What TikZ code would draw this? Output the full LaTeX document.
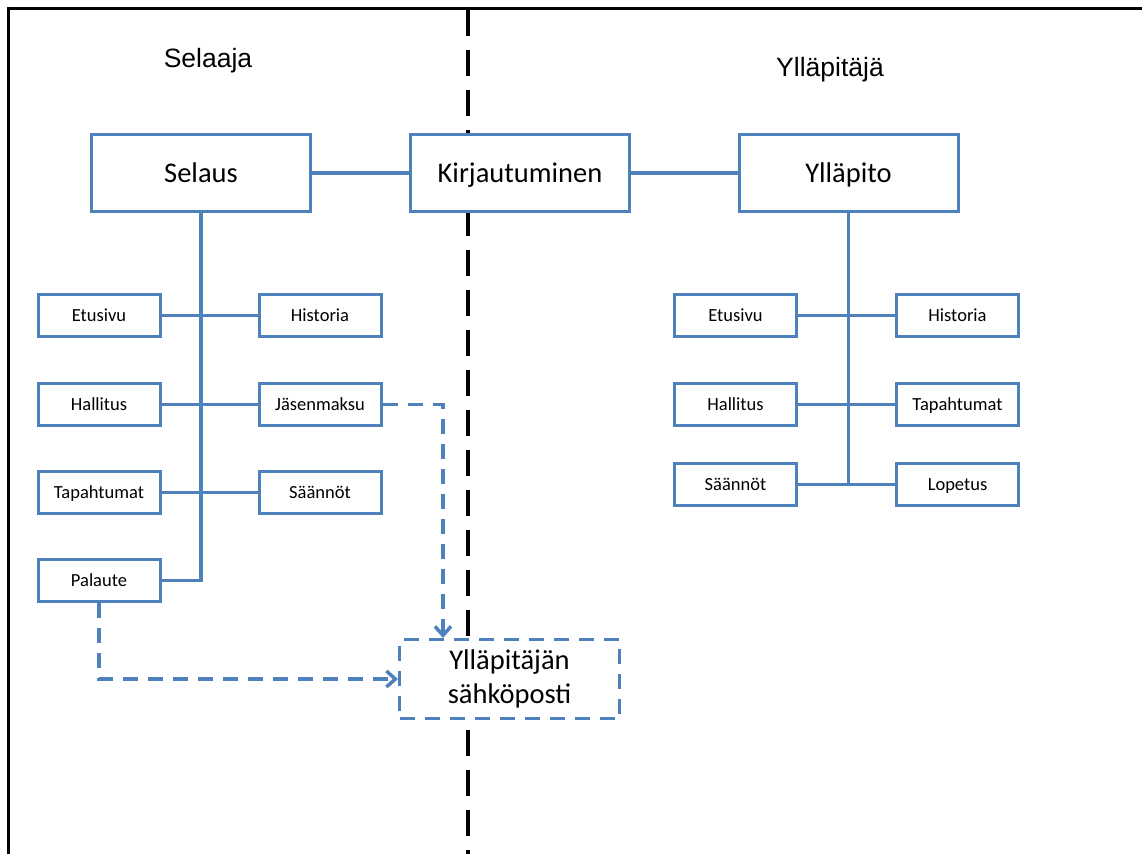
\documentclass[tikz,border=0pt]{standalone}
\usepackage{fontspec}
\setmainfont{Carlito}
\newfontfamily\arialfont{Liberation Sans}
\usetikzlibrary{arrows.meta,positioning}
\definecolor{officeblue}{RGB}{79,129,189}
\tikzset{
  bigbox/.style={draw=officeblue,line width=3pt,fill=white,
    minimum width=219pt,minimum height=77pt,
    text height=21pt,text depth=3pt,
    font=\fontsize{28.5}{34}\selectfont},
  smallbox/.style={draw=officeblue,line width=3pt,fill=white,
    minimum width=122pt,minimum height=42pt,
    text height=14pt,text depth=2pt,
    font=\fontsize{18.5}{22}\selectfont},
  mailbox/.style={draw=officeblue,line width=3pt,dash pattern=on 15pt off 10pt,
    fill=white,minimum width=220pt,minimum height=79pt,align=center,
    font=\fontsize{28.5}{34}\selectfont},
  link/.style={officeblue,line width=3.5pt},
  maillink/.style={officeblue,line width=3.5pt,dash pattern=on 15pt off 10pt,
    -{Straight Barb[length=9pt,width=16pt]}},
  divider/.style={line width=4.5pt,dash pattern=on 26pt off 14pt},
  sidetitle/.style={font=\arialfont\fontsize{26.5}{30}\selectfont}
}

\begin{document}
\begin{tikzpicture}[x=1pt,y=-1pt]
  \useasboundingbox (0,0) rectangle (1142,854);
  \fill[white] (0,0) rectangle (1142,854);
  % frame and divider
  \draw[line width=3pt] (8,854) -- (8,8) -- (1142,8);
  \draw[divider] (468,10) -- (468,854);

  \node[sidetitle] (selaaja) at (208,61) {Selaaja};
  \node[sidetitle] (yllapitaja) at (830,70) {Ylläpitäjä};

  \node[bigbox] (selaus) at (201,173) {Selaus};
  \node[bigbox] (kirj) at (520,173) {Kirjautuminen};
  \node[bigbox] (yllapito) at (848.5,173) {Ylläpito};

  % selaaja side
  \node[smallbox] (etusivu) at (99,315.5) {Etusivu};
  \node[smallbox] (historia) at (320,315.5) {Historia};
  \node[smallbox] (hallitus) at (99,404.5) {Hallitus};
  \node[smallbox] (jasen) at (320,404.5) {Jäsenmaksu};
  \node[smallbox] (tapaht) at (99,492.5) {Tapahtumat};
  \node[smallbox] (saannot) at (320,492.5) {Säännöt};
  \node[smallbox] (palaute) at (99,580.5) {Palaute};

  % yllapitaja side
  \node[smallbox] (aetusivu) at (735.5,315.5) {Etusivu};
  \node[smallbox] (ahistoria) at (957.5,315.5) {Historia};
  \node[smallbox] (ahallitus) at (735.5,404.5) {Hallitus};
  \node[smallbox] (atapaht) at (957.5,404.5) {Tapahtumat};
  \node[smallbox] (asaannot) at (735.5,484.5) {Säännöt};
  \node[smallbox] (alopetus) at (957.5,484.5) {Lopetus};

  \node[mailbox] (email) at (509.5,679) {Ylläpitäjän\\sähköposti};

  \draw[link] (selaus) -- (kirj);
  \draw[link] (kirj) -- (yllapito);
  \draw[link] (selaus.south) -- (selaus.south |- palaute.east) -- (palaute.east);
  \draw[link] (yllapito.south) -- (yllapito.south |- asaannot.east);
  \foreach \a/\b in {etusivu/historia,hallitus/jasen,tapaht/saannot,
    aetusivu/ahistoria,ahallitus/atapaht,asaannot/alopetus}
    \draw[link] (\a.east) -- (\b.west);

  \coordinate (jbend) at (443,404.5);
  \draw[maillink] (jasen.east) -- (jbend) -- (jbend |- email.north);
  \draw[maillink] (palaute.south) |- (email.west);
\end{tikzpicture}
\end{document}
